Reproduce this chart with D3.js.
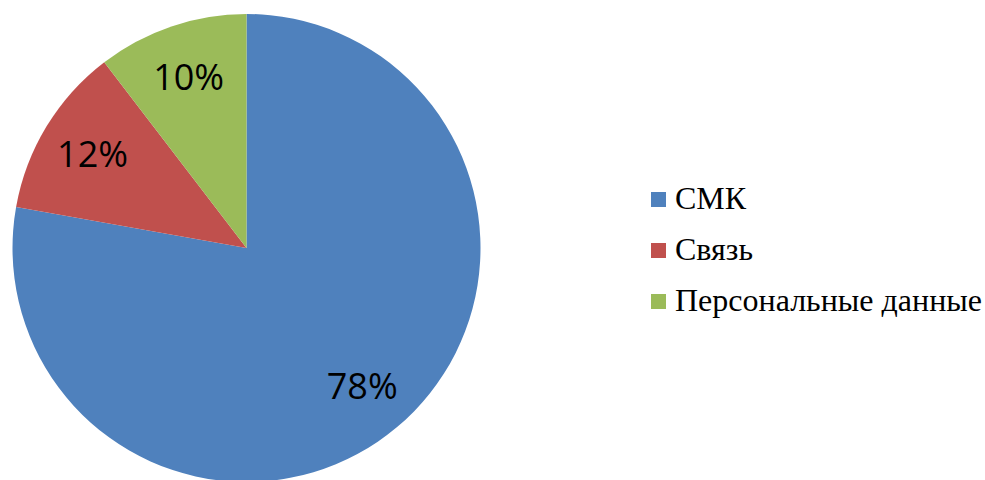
<!DOCTYPE html>
<html>
<head>
<meta charset="utf-8">
<script src="https://cdn.jsdelivr.net/npm/d3@7"></script>
<style>
  body { margin: 0; background: #fff; }
</style>
</head>
<body>
<div id="chart"></div>
<script>
// chart data (shares; labels show rounded values)
const categories = ['СМК', 'Связь', 'Персональные данные'];
const values = [77.8, 11.8, 10.4];
const colors = ['#4F81BD', '#C0504D', '#9BBB59'];

const width = 985, height = 480;
const cx = 246.5, cy = 248, radius = 234;

const svg = d3.select('#chart')
  .append('svg')
  .attr('width', width)
  .attr('height', height);

const color = d3.scaleOrdinal().domain(categories).range(colors);
const fmt = d3.format('.0f');

const pie = d3.pie()
  .sort(null)
  .value(d => d.value);

const arcs = pie(categories.map((c, i) => ({ name: c, value: values[i] })));

const arc = d3.arc().innerRadius(0).outerRadius(radius);
const labelArc = d3.arc().innerRadius(radius * 0.77).outerRadius(radius * 0.77);

const g = svg.append('g').attr('transform', `translate(${cx},${cy})`);

g.selectAll('path')
  .data(arcs)
  .enter()
  .append('path')
  .attr('d', arc)
  .attr('fill', d => color(d.data.name));

g.selectAll('text')
  .data(arcs)
  .enter()
  .append('text')
  .attr('transform', d => `translate(${labelArc.centroid(d)})`)
  .attr('text-anchor', 'middle')
  .attr('dy', '0.36em')
  .attr('font-family', 'Open Sans, sans-serif')
  .attr('font-size', 36)
  .attr('fill', '#000')
  .text(d => fmt(d.data.value) + '%');

// legend
const legend = svg.append('g').attr('transform', 'translate(651,192)');
const rowStep = d3.scalePoint().domain(categories).range([0, 102]);

const item = legend.selectAll('g')
  .data(categories)
  .enter()
  .append('g')
  .attr('transform', d => `translate(0,${rowStep(d)})`);

item.append('rect')
  .attr('width', 15)
  .attr('height', 15)
  .attr('fill', d => color(d));

item.append('text')
  .attr('x', 24)
  .attr('y', 17)
  .attr('font-family', 'Liberation Serif, Times New Roman, serif')
  .attr('font-size', 32)
  .attr('fill', '#000')
  .text(d => d);
</script>
</body>
</html>
